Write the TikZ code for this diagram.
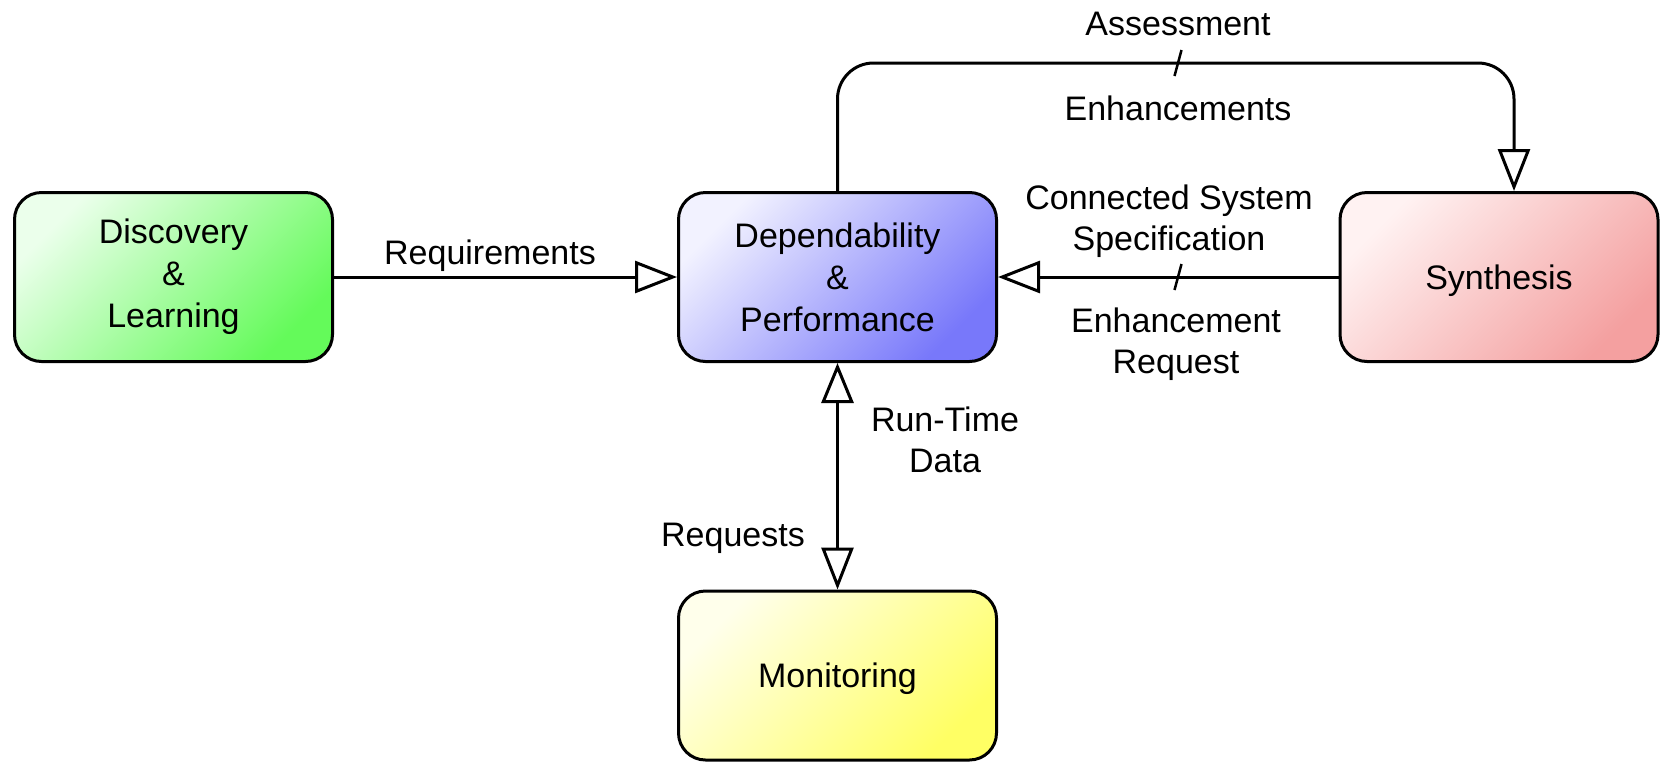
\documentclass[tikz,border=0pt]{standalone}
\usepackage{fontspec}
\setmainfont{Liberation Sans}
\usetikzlibrary{arrows.meta}
\definecolor{gD}{RGB}{100,250,90}
\definecolor{gL}{RGB}{235,255,235}
\definecolor{bD}{RGB}{120,120,250}
\definecolor{bL}{RGB}{242,242,255}
\definecolor{rD}{RGB}{244,160,160}
\definecolor{rL}{RGB}{255,242,242}
\definecolor{yD}{RGB}{255,255,100}
\definecolor{yL}{RGB}{255,255,235}
\begin{document}
\begin{tikzpicture}[x=1pt,y=-1pt,
  box/.style={draw, line width=3pt, rounded corners=27pt, minimum width=318pt,
    minimum height=169pt, inner sep=0pt, align=center,
    font=\fontsize{34}{42}\selectfont},
  grad/.style n args={2}{left color=#1, middle color=#2!62!#1, right color=#2, shading angle=45},
  lbl/.style={font=\fontsize{34}{41}\selectfont, align=center, inner sep=0pt},
  conn/.style={line width=3pt},
  tipo/.style={-{Triangle[open,length=42pt,width=32pt,line width=3pt]}},
  tipb/.style={{Triangle[open,length=40pt,width=32pt,line width=3pt]}-{Triangle[open,length=42pt,width=32pt,line width=3pt]}},
  slash/.style={line width=2.5pt}]
\useasboundingbox (0,0) rectangle (1664,764);
\node[box, grad={gL}{gD}] (disc) at (173.5,277) {Discovery\\\&\\Learning};
\node[box, grad={bL}{bD}] (dep) at (837.5,277) {Dependability\\\&\\Performance};
\node[box, grad={rL}{rD}, text depth=0pt] (syn) at (1499,277) {Synthesis};
\node[box, grad={yL}{yD}, text depth=0pt] (mon) at (837.5,675.5) {Monitoring};
\coordinate (tr) at (1514,63);
% connectors
\draw[conn, tipo] (disc) -- (dep);
\draw[conn, tipo] (syn) -- (dep);
\draw[conn, tipo, rounded corners=36pt] (dep.north) |- (tr) -- (tr |- syn.north);
\draw[conn, tipb] (dep.south) -- (mon.north);
% slashes
\coordinate (s1) at (1178,63);
\coordinate (s2) at (1178,277);
\draw[slash] ([xshift=-3.5pt,yshift=-13pt]s1) -- ([xshift=3.5pt,yshift=13pt]s1);
\draw[slash] ([xshift=-3.5pt,yshift=-13pt]s2) -- ([xshift=3.5pt,yshift=13pt]s2);
% labels
\node[lbl, anchor=base] (lreq) at (490,264) {Requirements};
\node[lbl, anchor=base] (lass) at (1178,35) {Assessment};
\node[lbl, anchor=base] (lenh) at (1178,120) {Enhancements};
\node[lbl] (lcss) at (1169,221) {Connected System\\Specification};
\node[lbl] (lenr) at (1176,344) {Enhancement\\Request};
\node[lbl] (lrtd) at (945,440) {Run-Time\\Data};
\node[lbl, anchor=base] (lrqs) at (733,546) {Requests};
\end{tikzpicture}
\end{document}
